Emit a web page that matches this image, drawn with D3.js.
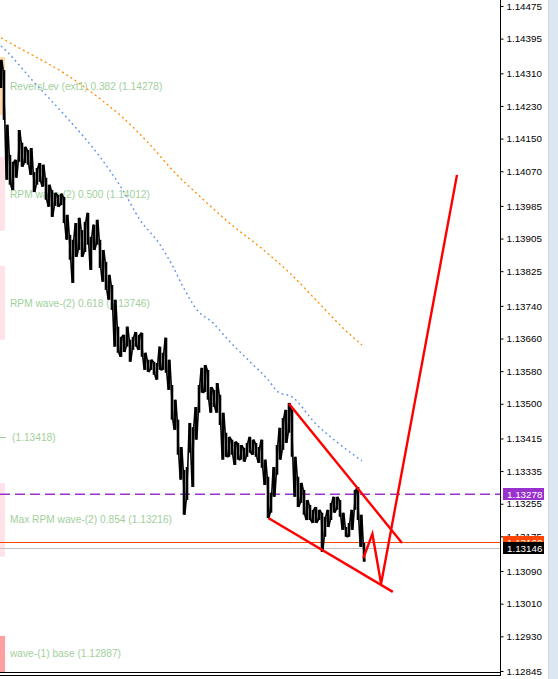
<!DOCTYPE html>
<html><head><meta charset="utf-8">
<script src="https://cdn.jsdelivr.net/npm/d3@7"></script>
<style>
html,body{margin:0;padding:0;background:#fff;overflow:hidden}
svg{display:block}
</style></head>
<body>
<svg id="c" width="558" height="679"></svg>
<script>
// ---- DATA ----
const yTickLabels = ["1.14475","1.14395","1.14310","1.14230","1.14150","1.14070","1.13985","1.13905","1.13825","1.13740","1.13660","1.13580","1.13500","1.13415","1.13335","1.13255","1.13175","1.13090","1.13010","1.12930","1.12845"];

const barHigh = [1.14343,1.14318,1.14184,1.14110,1.14093,1.14098,1.14171,1.14140,1.14130,1.14122,
1.14127,1.14068,1.14078,1.14090,1.14086,1.14054,1.14037,1.14024,1.14017,1.14012,
1.14015,1.14007,1.13963,1.13914,1.13902,1.13943,1.13956,1.13926,1.13946,1.13968,
1.13909,1.13939,1.13951,1.13902,1.13877,1.13848,1.13816,1.13791,1.13755,1.13689,
1.13664,1.13669,1.13689,1.13657,1.13664,1.13676,1.13669,1.13674,1.13625,1.13608,
1.13608,1.13603,1.13600,1.13640,1.13625,1.13662,1.13608,1.13546,1.13510,1.13461,
1.13394,1.13338,1.13345,1.13453,1.13443,1.13492,1.13546,1.13588,1.13595,1.13583,
1.13541,1.13534,1.13551,1.13522,1.13478,1.13429,1.13419,1.13412,1.13407,1.13404,
1.13399,1.13392,1.13404,1.13419,1.13412,1.13404,1.13394,1.13412,1.13363,1.13321,
1.13282,1.13345,1.13399,1.13441,1.13465,1.13485,1.13502,1.13485,1.13370,1.13321,
1.13306,1.13289,1.13264,1.13252,1.13240,1.13247,1.13240,1.13233,1.13223,1.13240,
1.13257,1.13272,1.13272,1.13264,1.13233,1.13198,1.13208,1.13240,1.13289,1.13296,
1.13228,1.13159];
const barLow = [1.14274,1.14196,1.14049,1.14037,1.14024,1.14054,1.14093,1.14081,1.14090,1.14086,
1.14061,1.14019,1.14037,1.14044,1.14032,1.14000,1.13983,1.13958,1.13985,1.13983,
1.13987,1.13943,1.13902,1.13853,1.13796,1.13860,1.13877,1.13860,1.13872,1.13890,
1.13828,1.13877,1.13890,1.13833,1.13799,1.13779,1.13755,1.13730,1.13640,1.13625,
1.13615,1.13627,1.13640,1.13603,1.13632,1.13640,1.13632,1.13615,1.13583,1.13578,
1.13583,1.13571,1.13559,1.13583,1.13583,1.13576,1.13534,1.13461,1.13436,1.13375,
1.13314,1.13228,1.13264,1.13380,1.13296,1.13412,1.13478,1.13527,1.13529,1.13510,
1.13478,1.13492,1.13478,1.13448,1.13363,1.13370,1.13370,1.13375,1.13350,1.13363,
1.13363,1.13358,1.13370,1.13380,1.13375,1.13370,1.13355,1.13343,1.13301,1.13220,
1.13233,1.13272,1.13326,1.13363,1.13387,1.13404,1.13429,1.13370,1.13272,1.13247,
1.13257,1.13228,1.13215,1.13215,1.13208,1.13208,1.13215,1.13137,1.13174,1.13198,
1.13215,1.13233,1.13240,1.13223,1.13191,1.13174,1.13174,1.13191,1.13240,1.13215,
1.13149,1.13113];

// moving averages (bar index, price)
const maOrangeT = [0,7.33,14.67,22,31.33,40.67,49.67,58,66.33,75.67,86.33,96.33,106.33,114.67,120.33];
const maOrangeP = [1.14397,1.14367,1.14338,1.14306,1.14257,1.14201,1.14135,1.14066,1.14008,1.13946,1.13884,1.13820,1.13744,1.13681,1.13644];
const maBlueT = [0,2,10.67,22,33,40.33,46.33,53,57.33,60.67,65.33,70.67,75.67,83,89,92.33,97,104.67,112.33,120.33];
const maBlueP = [1.14377,1.14363,1.14291,1.14201,1.14105,1.14027,1.13951,1.13890,1.13836,1.13787,1.13730,1.13698,1.13657,1.13603,1.13559,1.13529,1.13517,1.13453,1.13404,1.13360];

// wedge & projection (bar index, price)
const upperT = [96, 133.67], upperP = [1.13500, 1.13159];
const lowerT = [89.1, 130.6], lowerP = [1.13220, 1.13039];
const projT = [120.8, 123.8, 126.7, 152], projP = [1.13122, 1.13181, 1.13059, 1.14061];

// level labels
const levelNames = ["ReversLev (ext1) 0.382 (1.14278)","RPM wave-(2) 0.500 (1.14012)","RPM wave-(2) 0.618 (1.13746)","(1.13418)","Max RPM wave-(2) 0.854 (1.13216)","wave-(1) base (1.12887)"];
const levelPrices = [1.14278, 1.14012, 1.13746, 1.13418, 1.13216, 1.12887];

// zones at left edge
const zoneHi = [1.14350, 1.14105, 1.13838, 1.13306, 1.12931];
const zoneLo = [1.14208, 1.13924, 1.13657, 1.13125, 1.12838];

// horizontal lines
const purpleLevel = 1.13278, askLevel = 1.13160, bidLevel = 1.13146;

// ---- CHART ----
const svg = d3.select("#c");
const plotR = 500;
const y = d3.scaleLinear().domain([1.14475, 1.12845]).range([6, 671]);
const x = d3.scaleLinear().domain([0, 166]).range([1, 499]);

const zoneColors = ["#ffd9a6", "#ffe3e8", "#ffe3e8", "#ffe3e8", "#ff9f9f"];
svg.append("g").selectAll("rect").data(zoneHi).join("rect")
  .attr("x", 0).attr("width", 5)
  .attr("y", (d) => y(d))
  .attr("height", (d, i) => Math.min(y(zoneLo[i]), 673) - y(d))
  .attr("fill", (d, i) => zoneColors[i]);

// level labels (under price)
const lab = svg.append("g").attr("font-family", "Liberation Sans, Arial, sans-serif")
  .attr("font-size", "10.2px").attr("fill", "#9fd09b");
lab.selectAll("text").data(levelNames).join("text")
  .attr("x", (d) => d.startsWith("(") ? 12 : 10)
  .attr("y", (d, i) => y(levelPrices[i]))
  .attr("dominant-baseline", "central")
  .text(d => d);
svg.append("line").attr("x1", 0).attr("x2", 6)
  .attr("y1", Math.round(y(levelPrices[3])) + 0.5).attr("y2", Math.round(y(levelPrices[3])) + 0.5)
  .attr("stroke", "#9fd09b").attr("stroke-width", 1);

// horizontal lines
svg.append("line").attr("x1", 0).attr("x2", plotR)
  .attr("y1", y(purpleLevel)).attr("y2", y(purpleLevel))
  .attr("stroke", "#9932cc").attr("stroke-width", 1.5).attr("stroke-dasharray", "10,5");
svg.append("line").attr("x1", 0).attr("x2", plotR + 3)
  .attr("y1", Math.round(y(askLevel)) + 0.5).attr("y2", Math.round(y(askLevel)) + 0.5)
  .attr("stroke", "#ff4500").attr("stroke-width", 1);
svg.append("line").attr("x1", 0).attr("x2", plotR + 3)
  .attr("y1", Math.round(y(bidLevel)) + 0.5).attr("y2", Math.round(y(bidLevel)) + 0.5)
  .attr("stroke", "#c0c0c0").attr("stroke-width", 1);

// moving averages
const maLine = d3.line().curve(d3.curveMonotoneX);
svg.append("path").attr("d", maLine(maOrangeT.map((t, i) => [x(t), y(maOrangeP[i])])))
  .attr("fill", "none").attr("stroke", "#ff8c00").attr("stroke-width", 1.3).attr("stroke-dasharray", "2,3");
svg.append("path").attr("d", maLine(maBlueT.map((t, i) => [x(t), y(maBlueP[i])])))
  .attr("fill", "none").attr("stroke", "#6495ed").attr("stroke-width", 1.5).attr("stroke-dasharray", "1.8,3.2");

// price bars
const pg = svg.append("g");
pg.selectAll("line").data(barHigh).join("line")
  .attr("x1", (d, i) => x(i)).attr("x2", (d, i) => x(i))
  .attr("y1", d => y(d)).attr("y2", (d, i) => y(barLow[i]))
  .attr("stroke", "#000").attr("stroke-width", 2.6);
// connect consecutive bars (zig-zag through each bar's extremes)
const zz = [];
barHigh.forEach((h, i) => {
  zz.push([x(i) - 0.8, y(i % 2 ? h : barLow[i])]);
  zz.push([x(i) + 0.8, y(i % 2 ? barLow[i] : h)]);
});
pg.append("path").attr("d", d3.line()(zz)).attr("fill", "none")
  .attr("stroke", "#000").attr("stroke-width", 1.6).attr("stroke-linejoin", "bevel");

// wedge & projection
const ln = d3.line();
[[upperT, upperP], [lowerT, lowerP], [projT, projP]].forEach(([T, P]) => {
  svg.append("path").attr("d", ln(T.map((t, i) => [x(t), y(P[i])])))
    .attr("fill", "none").attr("stroke", "#ff0000").attr("stroke-width", 2.4)
    .attr("stroke-linejoin", "miter");
});

// right axis panel
svg.append("rect").attr("x", plotR + 1).attr("y", 0).attr("width", 47).attr("height", 679).attr("fill", "#fff");
svg.append("rect").attr("x", 548).attr("y", 0).attr("width", 10).attr("height", 679).attr("fill", "#dde7f2");
svg.append("line").attr("x1", 548.5).attr("x2", 548.5).attr("y1", 0).attr("y2", 679).attr("stroke", "#c9d7e6");

const axis = d3.axisRight(y).tickValues(yTickLabels.map(Number))
  .tickFormat((d, i) => yTickLabels[i]).tickSize(3).tickPadding(3);
const ag = svg.append("g").attr("transform", `translate(${plotR + 0.5},0)`).call(axis);
ag.select(".domain").attr("stroke", "#000").attr("d", "M0,0V676");
ag.selectAll("text").attr("font-family", "Liberation Sans, Arial, sans-serif").attr("font-size", "9.8px").attr("fill", "#000");

// bottom double line
svg.append("line").attr("x1", 0).attr("x2", plotR + 1).attr("y1", 672.5).attr("y2", 672.5).attr("stroke", "#000");
svg.append("line").attr("x1", 0).attr("x2", plotR + 1).attr("y1", 675.5).attr("y2", 675.5).attr("stroke", "#000");

// price boxes
const boxes = [[purpleLevel, "#9932cc"], [askLevel, "#ff4500"], [bidLevel, "#000"]];
boxes.forEach(([p, col]) => {
  const cy = y(p);
  svg.append("rect").attr("x", 503).attr("y", Math.round(cy) - 6).attr("width", 41).attr("height", 12).attr("fill", col);
  svg.append("text").attr("x", 507).attr("y", cy).attr("dominant-baseline", "central")
    .attr("font-family", "Liberation Sans, Arial, sans-serif").attr("font-size", "9.8px")
    .attr("fill", "#fff").text(p.toFixed(5));
});
</script>
</body></html>
